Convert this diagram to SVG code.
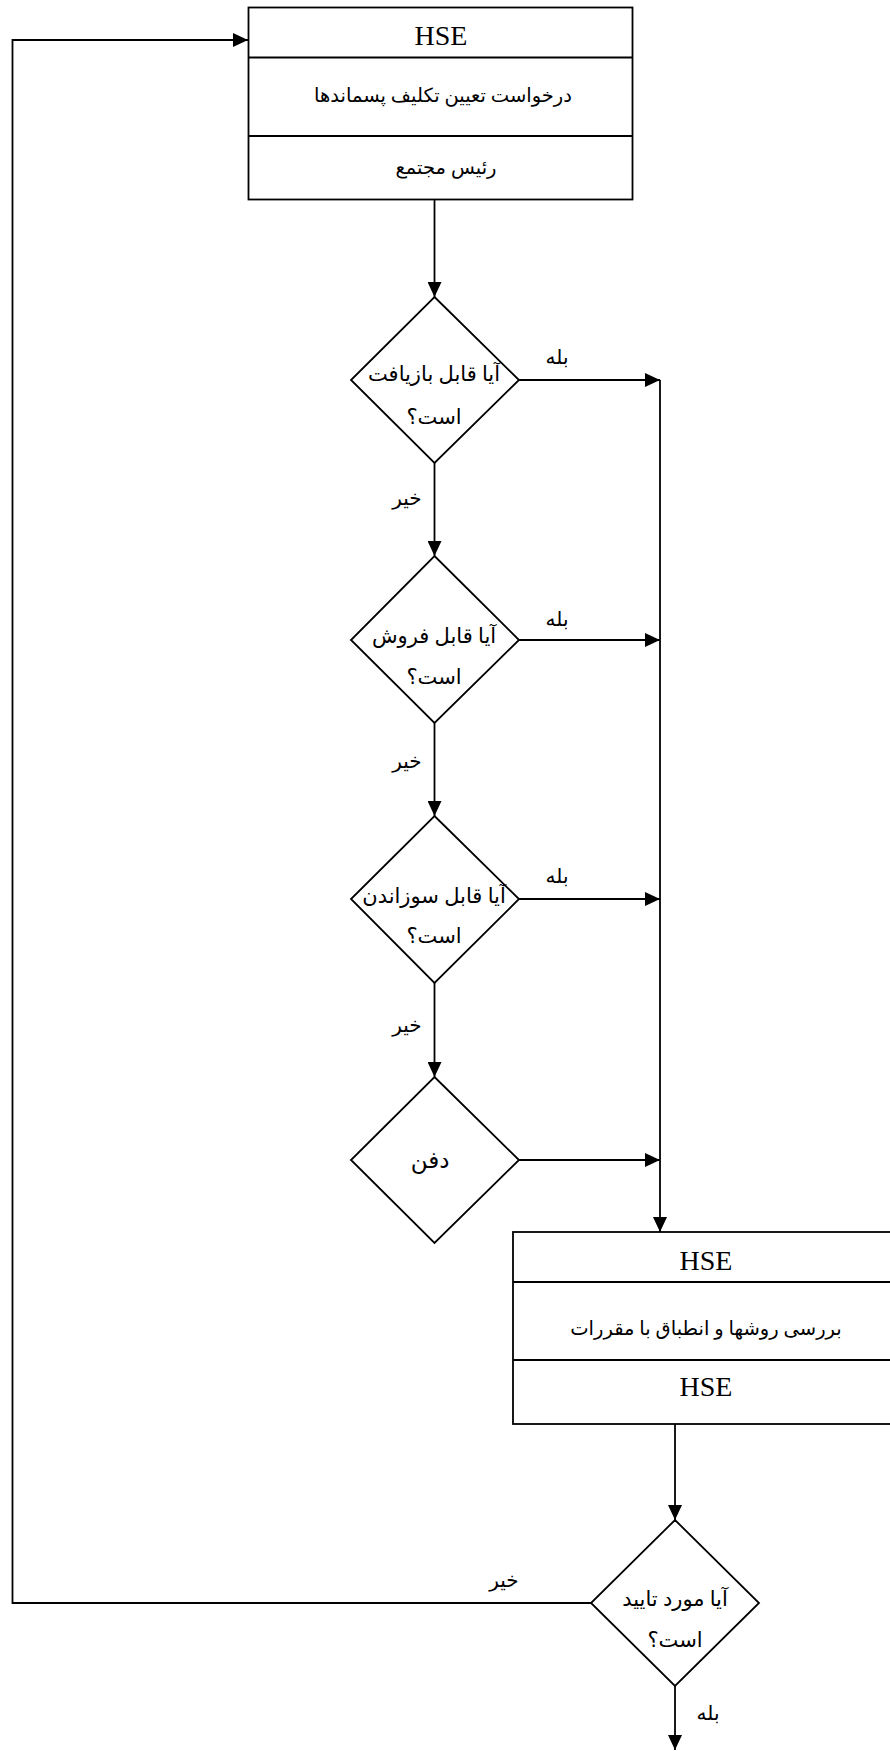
<svg xmlns="http://www.w3.org/2000/svg" width="890" height="1751" viewBox="0 0 890 1751">
<style>
.s{fill:#fff;stroke:#000;stroke-width:1.8}
.l{fill:none;stroke:#000;stroke-width:1.8}
.en{font-family:"Liberation Serif","Times New Roman",serif;font-size:28px;fill:#000;text-anchor:middle}
.fa{font-family:"Liberation Serif","DejaVu Sans","Noto Sans",sans-serif;font-size:19.5px;fill:#000;text-anchor:middle;direction:rtl}
.fd{font-family:"Liberation Serif","DejaVu Sans","Noto Sans",sans-serif;font-size:21px;fill:#000;text-anchor:middle;direction:rtl}
.lb{font-family:"Liberation Serif","DejaVu Sans","Noto Sans",sans-serif;font-size:20px;fill:#000;text-anchor:middle;direction:rtl}
</style>
<defs>
<marker id="ah" markerUnits="userSpaceOnUse" markerWidth="16" markerHeight="14" refX="15" refY="7" orient="auto">
<path d="M0,0 L15,7 L0,14 z" fill="#000"/>
</marker>
</defs>
<rect width="890" height="1751" fill="#fff"/>
<g id="connectors">
<line class="l" x1="434.5" y1="199" x2="434.5" y2="297" marker-end="url(#ah)"/>
<line class="l" x1="434.5" y1="463" x2="434.5" y2="556" marker-end="url(#ah)"/>
<line class="l" x1="434.5" y1="723" x2="434.5" y2="816" marker-end="url(#ah)"/>
<line class="l" x1="434.5" y1="983" x2="434.5" y2="1077" marker-end="url(#ah)"/>
<line class="l" x1="519" y1="380" x2="660" y2="380" marker-end="url(#ah)"/>
<line class="l" x1="519" y1="640" x2="660" y2="640" marker-end="url(#ah)"/>
<line class="l" x1="519" y1="899" x2="660" y2="899" marker-end="url(#ah)"/>
<line class="l" x1="519" y1="1160" x2="660" y2="1160" marker-end="url(#ah)"/>
<line class="l" x1="660" y1="380" x2="660" y2="1232" marker-end="url(#ah)"/>
<line class="l" x1="675" y1="1424" x2="675" y2="1520" marker-end="url(#ah)"/>
<line class="l" x1="675" y1="1686" x2="675" y2="1750" marker-end="url(#ah)"/>
<polyline class="l" points="591,1603 12.5,1603 12.5,40 248,40" marker-end="url(#ah)"/>
<text class="lb" x="557" y="364">بله</text>
<text class="lb" x="557" y="626">بله</text>
<text class="lb" x="557" y="883">بله</text>
<text class="lb" x="407" y="505">خير</text>
<text class="lb" x="407" y="768">خير</text>
<text class="lb" x="407" y="1032">خير</text>
<text class="lb" x="504" y="1587">خير</text>
<text class="lb" x="708" y="1720">بله</text>
</g>
<g id="start">
<rect class="s" x="248.5" y="7.5" width="384" height="192"/>
<line class="l" x1="248.5" y1="57.5" x2="632.5" y2="57.5"/>
<line class="l" x1="248.5" y1="136" x2="632.5" y2="136"/>
<text class="en" x="441" y="45">HSE</text>
<text class="fa" x="443" y="102">درخواست تعیین تکلیف پسماندها</text>
<text class="fa" x="446" y="174">رئیس مجتمع</text>
</g>
<g id="d1">
<polygon class="s" points="434.5,297 519,380 434.5,463 351,380"/>
<text class="fd" x="434" y="381">آیا قابل بازیافت</text>
<text class="fd" x="434" y="424">است؟</text>
</g>
<g id="d2">
<polygon class="s" points="434.5,556 519,640 434.5,723 351,640"/>
<text class="fd" x="434" y="643">آیا قابل فروش</text>
<text class="fd" x="434" y="684">است؟</text>
</g>
<g id="d3">
<polygon class="s" points="434.5,816 519,899 434.5,983 351,899"/>
<text class="fd" x="434" y="903">آیا قابل سوزاندن</text>
<text class="fd" x="434" y="943">است؟</text>
</g>
<g id="d4">
<polygon class="s" points="434.5,1077 519,1160 434.5,1243 351,1160"/>
<text class="fd" x="430" y="1168" style="font-size:23px">دفن</text>
</g>
<g id="review">
<rect class="s" x="513" y="1232" width="387" height="192"/>
<line class="l" x1="513" y1="1282" x2="900" y2="1282"/>
<line class="l" x1="513" y1="1360" x2="900" y2="1360"/>
<text class="en" x="706" y="1270">HSE</text>
<text class="fa" x="706" y="1335">بررسی روشها و انطباق با مقررات</text>
<text class="en" x="706" y="1396">HSE</text>
</g>
<g id="d5">
<polygon class="s" points="675,1520 759,1603 675,1686 591,1603"/>
<text class="fd" x="675" y="1606">آیا مورد تایید</text>
<text class="fd" x="675" y="1647">است؟</text>
</g>
</svg>
